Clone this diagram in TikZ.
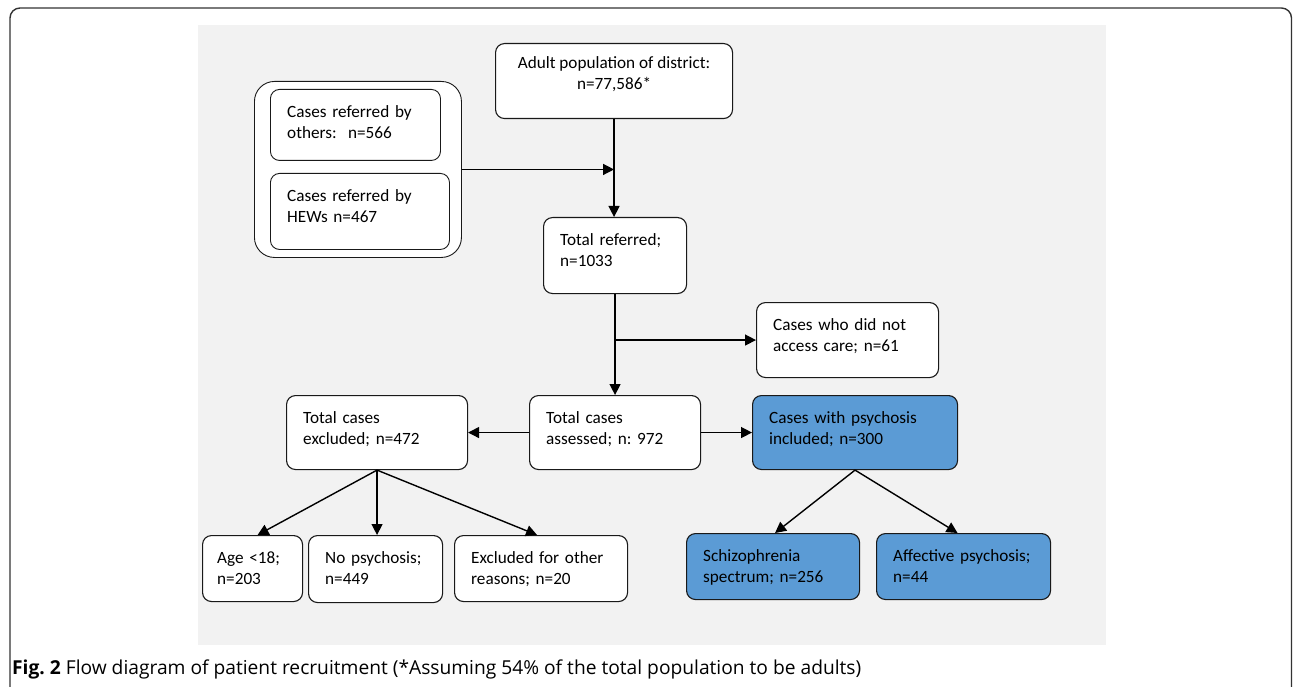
\documentclass[tikz,border=0pt]{standalone}
\usepackage{fontspec}
\setmainfont{Carlito}
\newfontfamily\capfont{Open Sans}
\usetikzlibrary{arrows.meta,calc}
\definecolor{boxblue}{HTML}{5B9BD5}
\definecolor{bggray}{HTML}{F2F2F2}
\definecolor{framegray}{HTML}{333333}
\newcommand{\boxfont}{\fontsize{17.2pt}{21pt}\selectfont\frenchspacing}
\begin{document}
\begin{tikzpicture}[x=1pt,y=-1pt,
  box/.style={draw=black!90, rounded corners=9pt, fill=white, line width=1.1pt, inner sep=0pt, anchor=north west},
  bluebox/.style={box, fill=boxblue},
  txt/.style={font=\boxfont, inner sep=0pt, anchor=north west, align=left, text width=#1},
  txt/.default=200pt,
  ctxt/.style={font=\boxfont, inner sep=0pt, anchor=north, align=center},
  arr/.style={line width=1.4pt, -{Triangle[length=11pt,width=11pt]}},
  ln/.style={line width=1.4pt}
]
\useasboundingbox (0,0) rectangle (1293,687);
% outer frame and gray panel
\draw[framegray, line width=1.4pt, rounded corners=10pt] (10,720) -- (10,8) -- (1291.5,8) -- (1291.5,720);
\fill[bggray] (198,25) rectangle (1106,645);

% boxes
\node[box, minimum width=237pt, minimum height=75pt] (adult) at (495,43) {};
\node[ctxt] (adultT) at ($(adult.north)+(0,13.5)$) {Adult population of district:\\n=77,586*};

\node[box, rounded corners=20pt, line width=0.9pt, minimum width=207pt, minimum height=176pt] (group) at (254,81) {};
\node[box, line width=0.9pt, minimum width=170pt, minimum height=71pt] (others) at (270,89) {};
\node[txt] (othersT) at ($(others.north west)+(17,16.5)$) {Cases referred by\\others:\ \ n=566};
\node[box, line width=0.9pt, minimum width=179pt, minimum height=76pt] (hews) at (270,173) {};
\node[txt] (hewsT) at ($(hews.north west)+(17,16.5)$) {Cases referred by\\HEWs n=467};

\node[box, minimum width=143pt, minimum height=76pt] (ref) at (543,217) {};
\node[txt] (refT) at ($(ref.north west)+(17,16.5)$) {Total referred;\\n=1033};

\node[box, minimum width=182pt, minimum height=75pt] (nac) at (756,302) {};
\node[txt] (nacT) at ($(nac.north west)+(17,16.5)$) {Cases who did not\\access care; n=61};

\node[box, minimum width=171pt, minimum height=74pt] (assess) at (529,395) {};
\node[txt] (assessT) at ($(assess.north west)+(17,16.5)$) {Total cases\\assessed; n: 972};

\node[box, minimum width=181pt, minimum height=74pt] (excl) at (286,395) {};
\node[txt] (exclT) at ($(excl.north west)+(17,16.5)$) {Total cases\\excluded; n=472};

\node[bluebox, minimum width=205pt, minimum height=74pt] (incl) at (752,395) {};
\node[txt] (inclT) at ($(incl.north west)+(17,16.5)$) {Cases with psychosis\\included; n=300};

\node[box, minimum width=100pt, minimum height=66pt] (age) at (202,535) {};
\node[txt] (ageT) at ($(age.north west)+(15,16.5)$) {Age <18;\\n=203};

\node[box, minimum width=134pt, minimum height=67pt] (nopsy) at (308,535) {};
\node[txt] (nopsyT) at ($(nopsy.north west)+(17,16.5)$) {No psychosis;\\n=449};

\node[box, minimum width=173pt, minimum height=66pt] (other) at (454,535) {};
\node[txt] (otherT) at ($(other.north west)+(17,16.5)$) {Excluded for other\\reasons; n=20};

\node[bluebox, minimum width=173pt, minimum height=66pt] (schizo) at (686,533) {};
\node[txt] (schizoT) at ($(schizo.north west)+(17,16.5)$) {Schizophrenia\\spectrum; n=256};

\node[bluebox, minimum width=174pt, minimum height=66pt] (affect) at (876,533) {};
\node[txt] (affectT) at ($(affect.north west)+(17,16.5)$) {Affective psychosis;\\n=44};

% connectors
\draw[arr] (adult.south) -- (adult.south |- ref.north);
\draw[arr] (group.east) -- (group.east -| adult.south);
\draw[arr] (ref.south) -- (assess.north);
\draw[arr] (ref.south |- nac.west) -- (nac.west);
\draw[arr] (assess.east) -- (incl.west);
\draw[arr] (assess.west) -- (excl.east);
\coordinate (ageTip) at ($(age.north)+(5,0)$);
\draw[arr] (excl.south) -- (ageTip);
\draw[arr] (excl.south) -- (excl.south |- nopsy.north);
\draw[arr] (excl.south) -- ($(other.north)+(-4,0)$);
\draw[arr] (incl.south) -- ($(schizo.north)+(2,0)$);
\draw[arr] (incl.south) -- ($(affect.north)+(-6,0)$);

% caption
\node[font=\capfont\fontsize{19.2pt}{22pt}\selectfont\frenchspacing, inner sep=0pt, anchor=base west] (cap) at (12,674)
  {\textbf{Fig. 2} Flow diagram of patient recruitment (*Assuming 54\% of the total population to be adults)};
\end{tikzpicture}
\end{document}
